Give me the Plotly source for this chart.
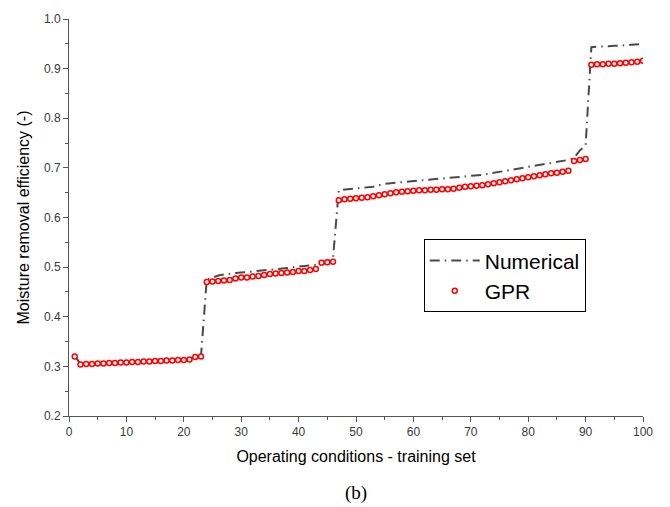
import plotly.graph_objects as go

x_conditions = list(range(1, 101))

numerical = [
    0.321, 0.305, 0.305, 0.306, 0.306, 0.307, 0.307, 0.308, 0.308, 0.309,
    0.309, 0.310, 0.310, 0.311, 0.311, 0.312, 0.312, 0.313, 0.313, 0.314,
    0.315, 0.320, 0.322,
    0.475, 0.479, 0.483, 0.485, 0.487, 0.488, 0.489, 0.490, 0.491, 0.492,
    0.494, 0.495, 0.496, 0.497, 0.498, 0.500, 0.501, 0.502, 0.503, 0.504,
    0.506, 0.512, 0.519,
    0.655, 0.656, 0.657, 0.658, 0.659, 0.660, 0.662, 0.665, 0.668, 0.669,
    0.670, 0.671, 0.672, 0.673, 0.674, 0.675, 0.676, 0.677, 0.678, 0.679,
    0.680, 0.681, 0.682, 0.683, 0.684, 0.686, 0.688, 0.690, 0.692, 0.694,
    0.696, 0.698, 0.700, 0.702, 0.704, 0.706, 0.708, 0.710, 0.712, 0.714,
    0.716, 0.720, 0.735, 0.745,
    0.943, 0.944, 0.944, 0.945, 0.946, 0.946, 0.947, 0.948, 0.949, 0.950,
]

gpr = [
    0.320, 0.304, 0.305, 0.305, 0.306, 0.306, 0.307, 0.307, 0.308, 0.308,
    0.309, 0.309, 0.310, 0.310, 0.311, 0.311, 0.312, 0.312, 0.313, 0.313,
    0.314, 0.319, 0.320,
    0.470, 0.471, 0.472, 0.473, 0.474, 0.477, 0.479, 0.479, 0.481, 0.482,
    0.484, 0.486, 0.487, 0.488, 0.489, 0.490, 0.492, 0.492, 0.494, 0.496,
    0.509, 0.510, 0.511,
    0.635, 0.637, 0.638, 0.639, 0.640, 0.641, 0.643, 0.645, 0.647, 0.649,
    0.651, 0.652, 0.653, 0.654, 0.655, 0.655, 0.656, 0.656, 0.657, 0.657,
    0.658, 0.660, 0.662, 0.663, 0.664, 0.665, 0.667, 0.669, 0.671, 0.673,
    0.675, 0.677, 0.679, 0.681, 0.683, 0.685, 0.687, 0.689, 0.690, 0.692,
    0.694, 0.714, 0.716, 0.718,
    0.908, 0.909, 0.909, 0.910, 0.910, 0.911, 0.912, 0.913, 0.914, 0.916,
]

x_ticks = [0, 10, 20, 30, 40, 50, 60, 70, 80, 90, 100]
y_ticks = [0.2, 0.3, 0.4, 0.5, 0.6, 0.7, 0.8, 0.9, 1.0]

fig = go.Figure()
fig.add_trace(go.Scatter(
    x=x_conditions, y=numerical, mode="lines", name="Numerical",
    line=dict(color="#4a4a4a", width=2, dash="10px,5px,1.5px,5px"),
))
fig.add_trace(go.Scatter(
    x=x_conditions, y=gpr, mode="markers", name="GPR",
    marker=dict(symbol="circle", size=5, color="white",
                line=dict(color="#ff0000", width=1.5)),
))

axis_font = dict(family="Liberation Sans, Arial", size=12, color="#3a3a3a")
fig.update_layout(
    width=670, height=507,
    margin=dict(l=69, r=27, t=12, b=91),
    paper_bgcolor="white", plot_bgcolor="white",
    showlegend=True,
    legend=dict(
        x=0.618, y=0.445, xanchor="left", yanchor="top",
        bgcolor="white", bordercolor="#000000", borderwidth=1,
        font=dict(family="Liberation Sans, Arial", size=21, color="#000000"),
        tracegroupgap=0, itemwidth=50,
    ),
    xaxis=dict(
        range=[0, 100], tickvals=x_ticks, ticktext=[str(v) for v in x_ticks],
        showgrid=False, zeroline=False,
        showline=True, linecolor="#555555", linewidth=1,
        ticks="outside", ticklen=5, tickcolor="#555555", tickwidth=1,
        minor=dict(dtick=5, tick0=0, ticks="outside", ticklen=3, tickcolor="#555555", showgrid=False),
        tickfont=axis_font,
        title=dict(text="Operating conditions - training set",
                   font=dict(family="Liberation Sans, Arial", size=16, color="#000000"),
                   standoff=12),
    ),
    yaxis=dict(
        range=[0.2, 1.0], tickvals=y_ticks, ticktext=[f"{v:.1f}" for v in y_ticks],
        showgrid=False, zeroline=False,
        showline=True, linecolor="#555555", linewidth=1,
        ticks="outside", ticklen=5, tickcolor="#555555", tickwidth=1,
        minor=dict(dtick=0.05, tick0=0.2, ticks="outside", ticklen=3, tickcolor="#555555", showgrid=False),
        tickfont=axis_font,
        title=dict(text="Moisture removal efficiency (-)",
                   font=dict(family="Liberation Sans, Arial", size=16, color="#000000"),
                   standoff=10),
    ),
    annotations=[dict(
        text="(b)", xref="paper", yref="paper", x=0.5, y=-0.161,
        xanchor="center", yanchor="top", showarrow=False,
        font=dict(family="Liberation Serif, Times New Roman", size=19, color="#000000"),
    )],
)

fig.write_html("out.html")
